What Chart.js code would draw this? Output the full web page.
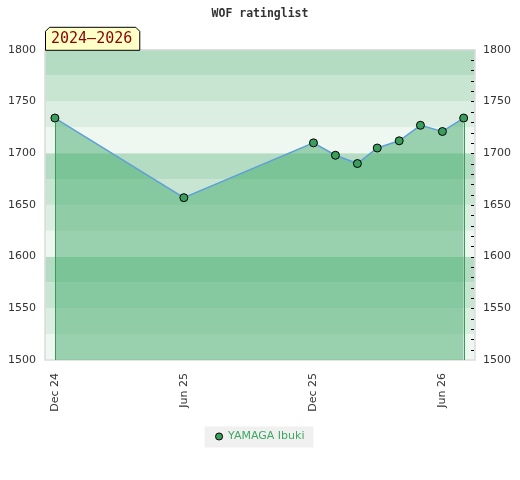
<!DOCTYPE html>
<html>
<head>
<meta charset="utf-8">
<title>WOF ratinglist</title>
<script src="https://cdn.jsdelivr.net/npm/chart.js@4/dist/chart.umd.min.js"></script>
<style>
  html, body { margin: 0; padding: 0; background: #fff; }
  #wrap { width: 520px; height: 480px; }
</style>
</head>
<body>
<div id="wrap"><canvas id="chart-rating" width="520" height="480"></canvas></div>
<script>
// --- data ---
const pointDates  = ['2024-12-01', '2025-06-01', '2025-12-01', '2026-01-01', '2026-02-01',
                     '2026-03-01', '2026-04-01', '2026-05-01', '2026-06-01', '2026-07-01'];
const ratings     = [1734, 1657, 1710, 1698, 1690, 1705, 1712, 1727, 1721, 1734];
const tickDates   = ['2024-12-01', '2025-06-01', '2025-12-01', '2026-06-01'];
const tickLabels  = ['Dec 24', 'Jun 25', 'Dec 25', 'Jun 26'];
const playerName  = 'YAMAGA Ibuki';
const periodLabel = '2024–2026';
const chartTitle  = 'WOF ratinglist';
const Y_MIN = 1500, Y_MAX = 1800;

// --- style ---
const BAND_STEP = 25;
const BAND_COLORS = ['#eff7f1', '#dceee2', '#c8e5d2', '#b3dcc2']; // bottom -> top inside each 100
const POINT_GREEN = '#3a9f5c';
const EDGE_GREEN  = '#3a9a5a';
const LINE_BLUE   = '#5fa0d8';
const PAD_BEFORE_DAYS = 14, PAD_AFTER_DAYS = 16;

const toDay = s => Date.parse(s + 'T00:00:00Z') / 86400000;
const xs = pointDates.map(toDay);
const tickXs = tickDates.map(toDay);

const bandsPlugin = {
  id: 'bands',
  beforeDatasetsDraw(chart) {
    const { ctx, chartArea: a, scales: { y } } = chart;
    ctx.save();
    for (let v = Y_MIN; v < Y_MAX; v += BAND_STEP) {
      const idx = ((v - Y_MIN) / BAND_STEP) % BAND_COLORS.length;
      const top = y.getPixelForValue(v + BAND_STEP);
      const bot = y.getPixelForValue(v);
      ctx.fillStyle = BAND_COLORS[idx];
      ctx.fillRect(a.left, top, a.right - a.left, bot - top);
    }
    ctx.strokeStyle = '#dcdcdc';
    ctx.lineWidth = 1.5;
    ctx.strokeRect(a.left, a.top, a.right - a.left, a.bottom - a.top);
    ctx.restore();
  },
  afterDatasetsDraw(chart) {
    const { ctx, chartArea: a } = chart;
    const pts = chart.getDatasetMeta(0).data;
    if (!pts.length) return;
    ctx.save();
    ctx.strokeStyle = EDGE_GREEN;
    ctx.lineWidth = 1;
    [pts[0], pts[pts.length - 1]].forEach(p => {
      const x = Math.round(p.x) + 0.5;
      ctx.beginPath();
      ctx.moveTo(x, p.y + 4.5);
      ctx.lineTo(x, a.bottom);
      ctx.stroke();
    });
    // minor ticks on the right axis, inside the plot edge
    const y2 = chart.scales.y2;
    ctx.strokeStyle = '#000';
    y2.ticks.forEach(t => {
      const py = Math.round(y2.getPixelForValue(t.value)) + 0.5;
      if (py < a.top + 2 || py > a.bottom - 2) return;
      ctx.beginPath();
      ctx.moveTo(a.right - 4, py);
      ctx.lineTo(a.right - 1, py);
      ctx.stroke();
    });
    ctx.restore();
  },
  afterDraw(chart) {
    const { ctx, chartArea: a } = chart;
    ctx.save();
    ctx.font = '15px "DejaVu Sans Mono"';
    const w = ctx.measureText(periodLabel).width + 13;
    const x0 = a.left + 0.5, x1 = a.left + w + 0.5, y0 = a.top - 23 + 0.5, y1 = a.top + 0.5, c = 4;
    ctx.beginPath();
    ctx.moveTo(x0, y1);
    ctx.lineTo(x0, y0 + c);
    ctx.lineTo(x0 + c, y0);
    ctx.lineTo(x1 - c, y0);
    ctx.lineTo(x1, y0 + c);
    ctx.lineTo(x1, y1);
    ctx.closePath();
    ctx.fillStyle = '#ffffc8';
    ctx.fill();
    ctx.strokeStyle = '#000';
    ctx.lineWidth = 1;
    ctx.stroke();
    ctx.fillStyle = '#8b0000';
    ctx.textBaseline = 'middle';
    ctx.fillText(periodLabel, a.left + 6, a.top - 10.5);
    ctx.restore();
  },
  beforeDraw(chart) {
    const boxes = chart.legend && chart.legend.legendHitBoxes;
    if (!boxes || !boxes.length) return;
    const b = boxes[0];
    const { ctx } = chart;
    ctx.save();
    ctx.fillStyle = '#f0f0f0';
    ctx.fillRect(b.left - 11, b.top + b.height / 2 - 10, b.width + 20, 21);
    ctx.restore();
  }
};

const axisFont = { family: '"DejaVu Sans"', size: 11 };

new Chart(document.getElementById('chart-rating'), {
  type: 'line',
  data: {
    datasets: [{
      label: playerName,
      data: xs.map((x, i) => ({ x, y: ratings[i] })),
      borderColor: LINE_BLUE,
      borderWidth: 1.5,
      backgroundColor: 'rgba(68,171,107,0.5)',
      fill: 'start',
      tension: 0,
      pointRadius: 4,
      pointBackgroundColor: POINT_GREEN,
      pointBorderColor: '#000',
      pointBorderWidth: 1,
      yAxisID: 'y',
    }]
  },
  options: {
    responsive: false,
    animation: false,
    devicePixelRatio: 1,
    layout: { padding: { left: 0, right: 0, top: 0, bottom: 28 } },
    plugins: {
      title: {
        display: true, text: chartTitle, color: '#333',
        font: { family: '"DejaVu Sans Mono"', size: 11.5, weight: 'bold' },
        padding: { top: 7, bottom: 29 },
      },
      legend: {
        position: 'bottom',
        labels: {
          usePointStyle: true, boxWidth: 7, boxHeight: 5, padding: 10,
          color: '#3ca860', font: axisFont,
          generateLabels: () => [{
            text: playerName, fillStyle: POINT_GREEN, strokeStyle: '#000',
            lineWidth: 1, pointStyle: 'circle', fontColor: '#3ca860', datasetIndex: 0,
          }],
        },
      },
      tooltip: { enabled: false },
    },
    scales: {
      x: {
        type: 'linear',
        min: xs[0] - PAD_BEFORE_DAYS,
        max: xs[xs.length - 1] + PAD_AFTER_DAYS,
        grid: { display: false, drawTicks: false },
        border: { display: false },
        afterBuildTicks: s => { s.ticks = tickXs.map(v => ({ value: v })); },
        afterFit: s => { s.height = 61; },
        ticks: {
          autoSkip: false, minRotation: 90, maxRotation: 90, padding: 13,
          color: '#333', font: axisFont,
          callback: (v, i) => tickLabels[i],
        },
      },
      y: {
        position: 'left', min: Y_MIN, max: Y_MAX,
        grid: { display: false, drawTicks: false },
        border: { display: false },
        afterFit: s => { s.width = 45; },
        ticks: { stepSize: 50, padding: 9, color: '#333', font: axisFont, callback: v => String(v) },
      },
      y2: {
        position: 'right', min: Y_MIN, max: Y_MAX,
        grid: { display: false, drawTicks: false },
        border: { display: false },
        afterFit: s => { s.width = 45; },
        ticks: {
          stepSize: 10, autoSkip: false, padding: 8, color: '#333', font: axisFont,
          callback: v => (v % 50 === 0 ? String(v) : ''),
        },
      },
    },
  },
  plugins: [bandsPlugin],
});
</script>
</body>
</html>
